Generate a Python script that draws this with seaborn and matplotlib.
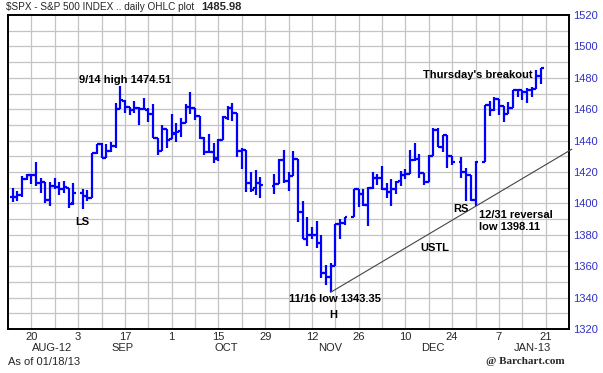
import numpy as np
import pandas as pd
import matplotlib
matplotlib.use("Agg")
import matplotlib.pyplot as plt
import matplotlib.transforms as mtransforms
import seaborn as sns

# ---------------- data ----------------
dates = ["2012-08-14", "2012-08-15", "2012-08-16", "2012-08-17",
         "2012-08-20", "2012-08-21", "2012-08-22", "2012-08-23", "2012-08-24",
         "2012-08-27", "2012-08-28", "2012-08-29", "2012-08-30", "2012-08-31",
         "2012-09-04", "2012-09-05", "2012-09-06", "2012-09-07",
         "2012-09-10", "2012-09-11", "2012-09-12", "2012-09-13", "2012-09-14",
         "2012-09-17", "2012-09-18", "2012-09-19", "2012-09-20", "2012-09-21",
         "2012-09-24", "2012-09-25", "2012-09-26", "2012-09-27", "2012-09-28",
         "2012-10-01", "2012-10-02", "2012-10-03", "2012-10-04", "2012-10-05",
         "2012-10-08", "2012-10-09", "2012-10-10", "2012-10-11", "2012-10-12",
         "2012-10-15", "2012-10-16", "2012-10-17", "2012-10-18", "2012-10-19",
         "2012-10-22", "2012-10-23", "2012-10-24", "2012-10-25", "2012-10-26",
         "2012-10-31", "2012-11-01", "2012-11-02",
         "2012-11-05", "2012-11-06", "2012-11-07", "2012-11-08", "2012-11-09",
         "2012-11-12", "2012-11-13", "2012-11-14", "2012-11-15", "2012-11-16",
         "2012-11-19", "2012-11-20", "2012-11-21", "2012-11-23",
         "2012-11-26", "2012-11-27", "2012-11-28", "2012-11-29", "2012-11-30",
         "2012-12-03", "2012-12-04", "2012-12-05", "2012-12-06", "2012-12-07",
         "2012-12-10", "2012-12-11", "2012-12-12", "2012-12-13", "2012-12-14",
         "2012-12-17", "2012-12-18", "2012-12-19", "2012-12-20", "2012-12-21",
         "2012-12-24", "2012-12-26", "2012-12-27", "2012-12-28",
         "2012-12-31", "2013-01-02", "2013-01-03", "2013-01-04",
         "2013-01-07", "2013-01-08", "2013-01-09", "2013-01-10", "2013-01-11",
         "2013-01-14", "2013-01-15", "2013-01-16", "2013-01-17", "2013-01-18"]

opens = [1404.36, 1403.89, 1405.57, 1415.84,
         1417.85, 1418.13, 1413.09, 1413.49, 1401.99,
         1411.13, 1410.44, 1409.32, 1410.08, 1400.07,
         1406.54, 1404.94, 1403.74, 1432.12,
         1437.92, 1429.13, 1433.56, 1436.56, 1460.07,
         1465.42, 1461.19, 1459.50, 1461.05, 1460.34,
         1459.76, 1456.94, 1441.60, 1433.36, 1447.13,
         1440.90, 1444.99, 1446.05, 1451.08, 1461.40,
         1460.93, 1455.90, 1441.48, 1432.82, 1432.84,
         1428.75, 1440.31, 1454.22, 1460.94, 1457.34,
         1433.21, 1433.74, 1413.20, 1409.74, 1412.97,
         1410.99, 1412.20, 1427.59,
         1414.02, 1417.26, 1428.27, 1394.53, 1377.55,
         1379.86, 1380.03, 1374.64, 1355.41, 1353.36,
         1359.88, 1386.82, 1387.79, 1391.03,
         1409.15, 1406.29, 1398.77, 1409.96, 1415.95,
         1416.34, 1409.46, 1407.05, 1409.43, 1413.95,
         1418.07, 1418.55, 1427.84, 1428.48, 1419.45,
         1413.54, 1430.47, 1446.79, 1435.81, 1443.67,
         1430.15, 1426.66, 1419.83, 1418.10,
         1402.43, 1426.19, 1462.42, 1459.37,
         1466.47, 1461.89, 1457.15, 1461.02, 1472.12,
         1472.05, 1470.67, 1472.33, 1472.63, 1480.95]

highs = [1410.03, 1407.73, 1417.44, 1418.71,
         1418.13, 1426.68, 1416.12, 1413.49, 1413.46,
         1416.17, 1413.63, 1413.95, 1410.08, 1413.09,
         1409.31, 1408.81, 1432.12, 1437.92,
         1438.74, 1437.76, 1439.15, 1463.76, 1474.51,
         1465.63, 1461.47, 1465.15, 1461.23, 1467.07,
         1460.72, 1463.24, 1441.60, 1450.20, 1447.13,
         1457.14, 1451.52, 1454.30, 1463.14, 1470.96,
         1460.93, 1455.90, 1442.52, 1443.90, 1438.43,
         1441.31, 1455.51, 1462.20, 1464.02, 1457.34,
         1435.46, 1433.74, 1420.04, 1421.12, 1417.09,
         1418.76, 1428.35, 1434.27,
         1419.90, 1433.38, 1428.27, 1401.23, 1391.39,
         1384.87, 1388.81, 1380.13, 1360.62, 1362.03,
         1386.89, 1389.77, 1391.25, 1409.16,
         1409.15, 1409.01, 1410.31, 1419.70, 1418.86,
         1423.73, 1413.14, 1415.56, 1413.95, 1420.34,
         1421.64, 1434.27, 1438.59, 1431.36, 1419.45,
         1430.67, 1448.00, 1447.75, 1443.70, 1443.67,
         1430.15, 1429.42, 1422.80, 1418.10,
         1426.74, 1462.43, 1465.47, 1467.94,
         1466.47, 1461.89, 1464.73, 1472.30, 1472.75,
         1472.05, 1473.31, 1473.96, 1485.16, 1485.98]

lows = [1400.60, 1401.83, 1404.15, 1414.67,
        1412.12, 1410.86, 1406.78, 1400.50, 1398.04,
        1409.11, 1405.59, 1406.57, 1397.01, 1398.96,
        1396.56, 1401.25, 1403.74, 1431.45,
        1428.98, 1429.13, 1432.99, 1435.34, 1460.07,
        1457.55, 1456.13, 1457.88, 1449.98, 1459.51,
        1452.06, 1441.59, 1430.53, 1433.36, 1435.60,
        1440.90, 1439.01, 1441.99, 1451.08, 1456.89,
        1453.10, 1441.18, 1430.64, 1432.82, 1425.53,
        1427.24, 1440.31, 1453.35, 1452.63, 1429.85,
        1422.06, 1407.56, 1407.10, 1405.14, 1403.28,
        1405.95, 1412.20, 1412.91,
        1408.13, 1417.26, 1388.14, 1377.51, 1373.03,
        1377.19, 1371.39, 1352.50, 1348.05, 1343.35,
        1359.88, 1377.04, 1386.39, 1391.03,
        1397.68, 1398.03, 1385.43, 1409.04, 1411.63,
        1408.46, 1403.65, 1398.23, 1405.93, 1410.90,
        1415.64, 1418.55, 1426.76, 1416.00, 1411.88,
        1413.54, 1430.47, 1435.80, 1432.82, 1422.58,
        1424.66, 1416.43, 1401.80, 1401.58,
        1398.11, 1426.19, 1455.53, 1458.99,
        1456.62, 1451.64, 1457.15, 1461.02, 1467.58,
        1465.69, 1463.76, 1467.60, 1472.63, 1475.81]

closes = [1403.93, 1405.53, 1415.51, 1418.16,
          1418.13, 1413.17, 1413.49, 1402.08, 1411.13,
          1410.44, 1409.30, 1410.49, 1399.48, 1406.58,
          1404.94, 1403.44, 1432.12, 1437.92,
          1429.08, 1433.56, 1436.56, 1459.99, 1465.77,
          1461.19, 1459.32, 1461.05, 1460.26, 1460.15,
          1456.89, 1441.59, 1433.32, 1447.15, 1440.67,
          1444.49, 1445.75, 1450.99, 1461.40, 1460.93,
          1455.88, 1441.48, 1432.56, 1432.84, 1428.59,
          1440.13, 1454.92, 1460.91, 1457.34, 1433.19,
          1433.82, 1413.11, 1408.75, 1412.97, 1411.94,
          1412.16, 1427.59, 1414.20,
          1417.26, 1428.39, 1394.53, 1377.51, 1379.85,
          1380.03, 1374.53, 1355.49, 1353.33, 1359.88,
          1386.89, 1387.81, 1391.03, 1409.15,
          1406.29, 1398.94, 1409.93, 1415.95, 1416.18,
          1409.46, 1407.05, 1409.28, 1413.94, 1418.07,
          1418.55, 1427.84, 1428.48, 1419.45, 1413.58,
          1430.36, 1446.79, 1435.81, 1443.69, 1430.15,
          1426.66, 1419.83, 1418.10, 1402.43,
          1426.19, 1462.42, 1459.37, 1466.47,
          1461.89, 1457.15, 1461.02, 1472.12, 1472.05,
          1470.68, 1472.34, 1472.63, 1480.94, 1485.98]

tick_dates = ["2012-08-20", "2012-09-03", "2012-09-17", "2012-10-01",
              "2012-10-15", "2012-10-29", "2012-11-12", "2012-11-26",
              "2012-12-10", "2012-12-24", "2013-01-07", "2013-01-21"]
tick_labels = ["20", "3", "17", "1", "15", "29", "12", "26", "10", "24", "7", "21"]
month_labels = ["AUG-12", "SEP", "OCT", "NOV", "DEC", "JAN-13"]
y_ticks = [1320, 1340, 1360, 1380, 1400, 1420, 1440, 1460, 1480, 1500, 1520]

trend_dates = ["2012-11-16", "2012-12-31"]
trend_values = [1343.35, 1398.11]

# ---------------- layout ----------------
START = "2012-08-13"
W, H = 603, 373
FONT = ["Liberation Sans", "DejaVu Sans"]
BLUE = "#0000ff"

def wpos(d):
    return np.busday_count(START, d)

df = pd.DataFrame({"date": dates, "open": opens, "high": highs,
                   "low": lows, "close": closes})
df["x"] = [wpos(d) for d in df["date"]]

sns.set_style("white")
plt.rcParams["font.family"] = FONT

fig = plt.figure(figsize=(W / 100, H / 100), dpi=100)
ax = fig.add_axes([8 / W, 1 - 329 / H, (569 - 8) / W, (329 - 15) / H])

# grid
for gx in range(5, 120, 5):
    ax.axvline(gx, color="#c4c4c4", lw=0.9, zorder=0)
for gy in range(1330, 1520, 10):
    ax.axhline(gy, color="#c4c4c4", lw=0.9, zorder=0)

# OHLC bars
tick = 0.62
ax.vlines(df["x"], df["low"], df["high"], color=BLUE, lw=1.6, capstyle="butt", zorder=3)
ax.hlines(df["open"], df["x"] - tick, df["x"], color=BLUE, lw=1.6, capstyle="butt", zorder=3)
ax.hlines(df["close"], df["x"], df["x"] + tick, color=BLUE, lw=1.6, capstyle="butt", zorder=3)

# trend line (USTL) through the two lows, extended to the right
tx = [wpos(d) for d in trend_dates]
slope = (trend_values[1] - trend_values[0]) / (tx[1] - tx[0])
x_end = 120.6
line_x = [tx[0], x_end]
line_y = [trend_values[0], trend_values[0] + slope * (x_end - tx[0])]
sns.lineplot(x=line_x, y=line_y, ax=ax, color="#444444", lw=0.8,
             clip_on=False, zorder=4, legend=False)

ax.set_xlim(0, 120)
ax.set_ylim(1320, 1520)

for s in ax.spines.values():
    s.set_color("black")
    s.set_linewidth(1.4)
    s.set_visible(True)

ax.yaxis.tick_right()
ax.set_yticks(y_ticks)
ax.set_yticklabels([str(v) for v in y_ticks], color="#3030c8", fontsize=8)
ax.set_xticks([wpos(d) for d in tick_dates])
ax.set_xticklabels(tick_labels, fontsize=8)
ax.tick_params(axis="both", length=0)
ax.tick_params(axis="x", pad=2)
ax.tick_params(axis="y", pad=3)
ax.set_xlabel("")
ax.set_ylabel("")

# month labels
month_x = [9.4, 24.6, 46.6, 68.9, 90.8, 112.2]
trans = mtransforms.blended_transform_factory(ax.transData, fig.transFigure)
for mx, lab in zip(month_x, month_labels):
    ax.text(mx, 1 - 348 / H, lab, transform=trans, ha="center", va="center",
            fontsize=8, clip_on=False)

# header / footer
fig.text(6 / W, 1 - 7.5 / H, "$SPX - S&P 500 INDEX .. daily OHLC plot",
         fontsize=7.2, va="center", ha="left", parse_math=False)
fig.text(201 / W, 1 - 7.5 / H, f"{closes[-1]:.2f}", fontsize=8,
         fontweight="bold", va="center", ha="left")
fig.text(8 / W, 1 - 362 / H, "As of 01/18/13", fontsize=8, va="center", ha="left")
fig.text(525 / W, 1 - 362 / H, "@ Barchart.com", fontsize=8, va="center",
         ha="center", fontweight="bold", family=["Liberation Serif", "DejaVu Serif"])

# annotations (pixel positions converted to figure fraction)
def ann(px, py, s, ha="left"):
    fig.text(px / W, 1 - py / H, s, fontsize=8, fontweight="bold",
             ha=ha, va="center", color="black")

ann(79, 80, "9/14 high 1474.51")
ann(82, 222, "LS", ha="center")
ann(289, 299, "11/16 low 1343.35")
ann(333, 315, "H", ha="center")
ann(435, 248, "USTL", ha="center")
ann(461, 209, "RS", ha="center")
ann(479, 215, "12/31 reversal")
ann(479, 227, "low 1398.11")
ann(423, 75.5, "Thursday's breakout")

fig.savefig("out.png", dpi=100)
